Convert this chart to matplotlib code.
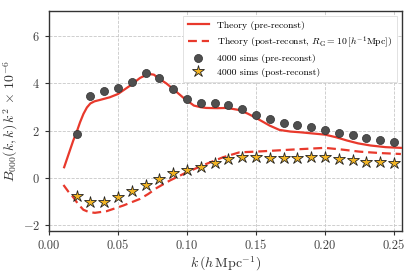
import numpy as np
import matplotlib
matplotlib.use('Agg')
import matplotlib.pyplot as plt

plt.rcParams['font.family'] = 'serif'
plt.rcParams['font.serif'] = ['cmr10']
plt.rcParams['mathtext.fontset'] = 'cm'
plt.rcParams['axes.formatter.use_mathtext'] = True

# sims, k = 0.02 ... 0.25
k_sims = [0.02, 0.03, 0.04, 0.05, 0.06, 0.07, 0.08, 0.09, 0.10, 0.11, 0.12, 0.13,
          0.14, 0.15, 0.16, 0.17, 0.18, 0.19, 0.20, 0.21, 0.22, 0.23, 0.24, 0.25]
b_pre = [1.86, 3.48, 3.66, 3.80, 4.07, 4.42, 4.23, 3.76, 3.32, 3.19, 3.15, 3.10,
         2.90, 2.68, 2.48, 2.33, 2.24, 2.14, 2.04, 1.90, 1.80, 1.70, 1.62, 1.53]
b_post = [-0.78, -1.02, -1.02, -0.82, -0.57, -0.30, -0.04, 0.20, 0.34, 0.48, 0.65, 0.80,
          0.90, 0.87, 0.85, 0.83, 0.85, 0.90, 0.87, 0.80, 0.76, 0.69, 0.66, 0.63]

# theory curves
k_th_pre = [0.011, 0.0145, 0.0176, 0.020, 0.0225, 0.025, 0.0275, 0.030, 0.033, 0.037,
            0.044, 0.050, 0.0587, 0.066, 0.072, 0.076, 0.080, 0.085, 0.090, 0.097,
            0.105, 0.110, 0.114, 0.122, 0.129, 0.138, 0.144, 0.150, 0.160, 0.167,
            0.175, 0.182, 0.200, 0.208, 0.216, 0.224, 0.233, 0.244, 0.255]
th_pre = [0.45, 1.05, 1.58, 1.93, 2.35, 2.71, 2.98, 3.15, 3.24, 3.30,
          3.41, 3.55, 3.90, 4.23, 4.40, 4.37, 4.19, 4.00, 3.76, 3.41,
          3.06, 2.99, 2.96, 2.95, 2.96, 2.87, 2.72, 2.54, 2.21, 2.03,
          1.96, 1.93, 1.83, 1.72, 1.58, 1.46, 1.37, 1.30, 1.27]
k_th_post = [0.0105, 0.014, 0.0176, 0.021, 0.0249, 0.029, 0.0333, 0.0418, 0.0539,
             0.066, 0.072, 0.078, 0.0877, 0.100, 0.114, 0.126, 0.138, 0.153, 0.177,
             0.200, 0.212, 0.225, 0.240, 0.255]
th_post = [-0.30, -0.58, -0.82, -1.10, -1.35, -1.45, -1.48, -1.41, -1.17,
           -0.89, -0.68, -0.43, -0.11, 0.24, 0.59, 0.87, 1.08, 1.12, 1.20,
           1.27, 1.20, 1.11, 1.05, 1.01]

red = '#e8392c'

fig = plt.figure(figsize=(4.15, 2.77), dpi=100)
ax = fig.add_axes([0.118, 0.166, 0.850, 0.794])

ax.plot(k_th_pre, th_pre, '-', color=red, lw=1.6, label='Theory (pre-reconst)', zorder=3)
ax.plot(k_th_post, th_post, '--', color=red, lw=1.6, dashes=(4, 2.2),
        label=r'Theory (post-reconst, $R_{\rm G}=10\,[h^{-1}{\rm Mpc}])$', zorder=3)
ax.plot(k_sims, b_pre, 'o', color='#4f4f4f', mec='#2e2e2e', mew=0.5, ms=5.8,
        label='4000 sims (pre-reconst)', zorder=4)
ax.plot(k_sims, b_post, '*', color='#f2b424', mec='#222222', mew=0.6, ms=9,
        label='4000 sims (post-reconst)', zorder=4)

ax.set_xlim(0, 0.2556)
ax.set_ylim(-2.25, 7.06)
ax.set_xticks([0.0, 0.05, 0.10, 0.15, 0.20, 0.25])
ax.set_xticklabels(['0.00', '0.05', '0.10', '0.15', '0.20', '0.25'])
ax.set_yticks([-2, 0, 2, 4, 6])
ax.grid(True, ls='--', lw=0.6, color='#c8c8c8')
ax.set_axisbelow(True)
for s in ax.spines.values():
    s.set_color('#333333')
    s.set_linewidth(1.0)
ax.tick_params(direction='out', length=3, width=0.8, color='#333333',
               labelsize=9, labelcolor='#444444', top=False, right=False)

ax.set_xlabel(r'$k\,(h\,\mathrm{Mpc}^{-1})$', fontsize=10, color='#333333', labelpad=2)
ax.set_ylabel(r'$B_{000}(k,k)\,k^2\,\times\,10^{-6}$', fontsize=10, color='#333333', labelpad=2)

leg = ax.legend(loc='upper right', fontsize=7, frameon=True, framealpha=1,
                edgecolor='#dddddd', fancybox=False, borderpad=0.5,
                handlelength=2.2, labelspacing=0.45)
leg.get_frame().set_linewidth(0.6)

fig.savefig('out.png', dpi=100)
